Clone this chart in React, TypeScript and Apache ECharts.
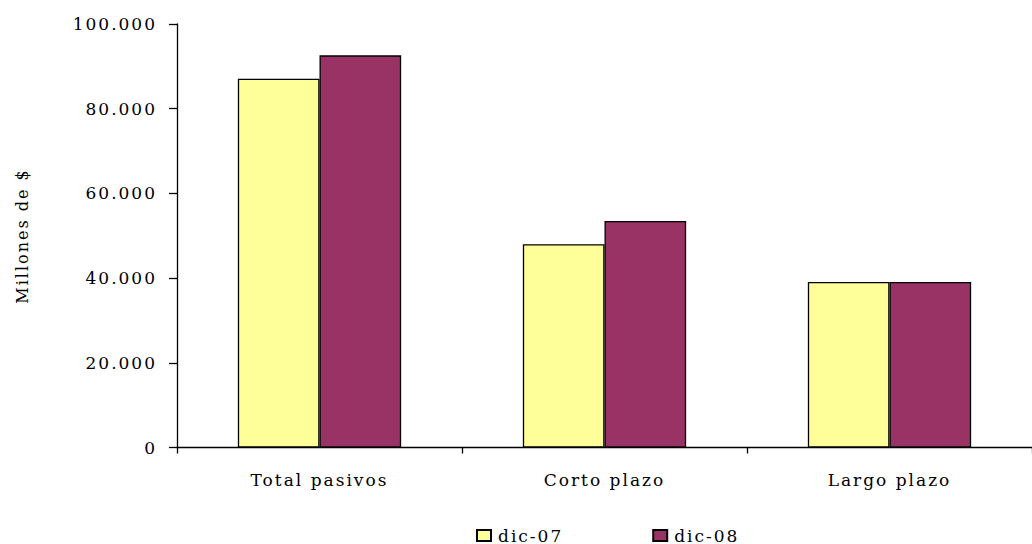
import React, { useEffect, useRef } from "react";
import * as echarts from "echarts";

const categories = ["Total pasivos", "Corto plazo", "Largo plazo"];
const serieNames = ["dic-07", "dic-08"];
const dic07 = [87100, 48000, 39100];
const dic08 = [92600, 53500, 39100];
const yTicks = [0, 20000, 40000, 60000, 80000, 100000];

const FONT = "DejaVu Serif";

function fmt(v: number): string {
  return String(v).replace(/\B(?=(\d{3})+(?!\d))/g, ".");
}

export default function App() {
  const ref = useRef<HTMLDivElement>(null);
  useEffect(() => {
    document.body.style.margin = "0";
    const chart = echarts.init(ref.current!, null, { renderer: "svg" });
    chart.setOption({
      animation: false,
      backgroundColor: "#ffffff",
      textStyle: { fontFamily: FONT, color: "#000" },
      grid: { left: 177, right: 0, top: 24, bottom: 96.5, containLabel: false },
      legend: {
        data: serieNames,
        left: 476,
        top: 527,
        padding: 0,
        itemWidth: 14,
        itemHeight: 11,
        itemGap: 101,
        icon: "rect",
        textStyle: { fontFamily: FONT, fontSize: 17, lineHeight: 17, color: "#000", padding: [0, 0, 0, 2] },
      },
      xAxis: {
        type: "category",
        data: categories,
        axisLine: { lineStyle: { color: "#000", width: 1.3 } },
        axisTick: { show: true, length: 6, lineStyle: { color: "#000", width: 1.3 } },
        axisLabel: { fontFamily: FONT, fontSize: 17, color: "#000", margin: 24 },
      },
      yAxis: {
        type: "value",
        min: 0,
        max: 100000,
        interval: 20000,
        splitLine: { show: false },
        axisLine: { show: true, lineStyle: { color: "#000", width: 1.3 } },
        axisTick: { show: true, length: 8, lineStyle: { color: "#000", width: 1.3 } },
        axisLabel: {
          fontFamily: FONT,
          fontSize: 17,
          color: "#000",
          margin: 20,
          formatter: (v: number) => (yTicks.includes(v) ? fmt(v) : ""),
        },
      },
      graphic: [
        {
          type: "text",
          x: 22,
          y: 236,
          rotation: Math.PI / 2,
          style: {
            text: "Millones de $",
            fontFamily: FONT,
            fontSize: 16,
            fill: "#000",
            align: "center",
            verticalAlign: "middle",
          },
        },
      ],
      series: [
        {
          name: serieNames[0],
          type: "bar",
          data: dic07,
          barGap: "0%",
          barCategoryGap: "42.7%",
          itemStyle: { color: "#FFFF99", borderColor: "#000", borderWidth: 1.3 },
        },
        {
          name: serieNames[1],
          type: "bar",
          data: dic08,
          barGap: "0%",
          barCategoryGap: "42.7%",
          itemStyle: { color: "#993366", borderColor: "#000", borderWidth: 1.3 },
        },
      ],
    });
    return () => chart.dispose();
  }, []);
  return (
    <div>
      <style>{"#chartbox text { letter-spacing: 2px; }"}</style>
      <div id="chartbox" ref={ref} style={{ width: 1032, height: 544 }} />
    </div>
  );
}
